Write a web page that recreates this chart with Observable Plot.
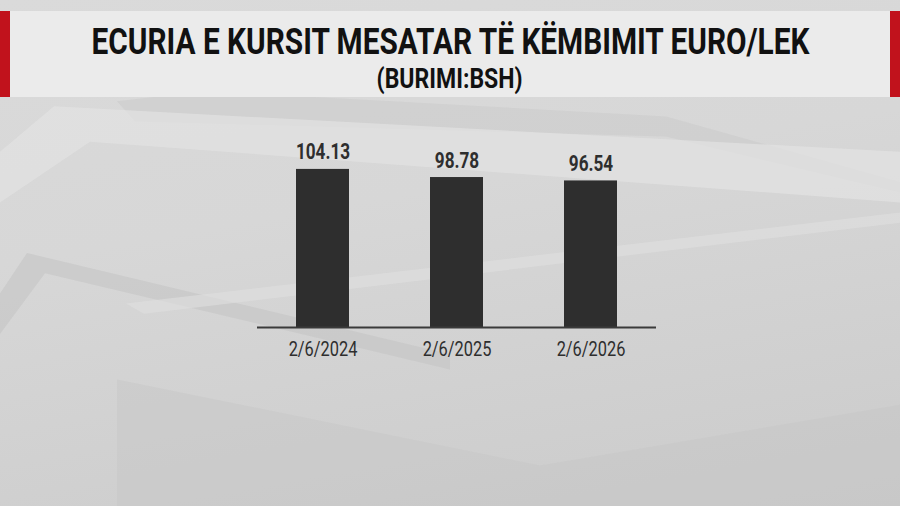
<!DOCTYPE html>
<html>
<head>
<meta charset="utf-8">
<script src="https://cdn.jsdelivr.net/npm/d3@7"></script>
<script src="https://cdn.jsdelivr.net/npm/@observablehq/plot@0.6"></script>
<style>
  html, body { margin: 0; padding: 0; }
  body { width: 900px; height: 506px; position: relative; overflow: hidden;
         background: linear-gradient(170deg, #dadada 0%, #d7d7d7 40%, #cbcbcb 100%);
         font-family: Roboto, "Noto Sans", sans-serif; }
  .deco { position: absolute; inset: 0; pointer-events: none; }
  .p1 { background: #e2e2e2; clip-path: polygon(0% 30%, 6% 21%, 100% 30%, 100% 40%, 10% 28%, 0% 40%); opacity: .7; }
  .p2 { background: #c4c4c4; clip-path: polygon(0% 58%, 3% 50%, 50% 70%, 50% 73%, 5% 54%, 0% 66%); opacity: .6; }
  .p3 { background: #e0e0e0; clip-path: polygon(14% 60%, 100% 42%, 100% 44%, 16% 62%); opacity: .6; }
  .p4 { background: #c6c6c6; clip-path: polygon(13% 75%, 60% 92%, 100% 80%, 100% 100%, 13% 100%); opacity: .45; }
  .p5 { background: #c9c9c9; clip-path: polygon(13% 20%, 23% 18%, 74% 23%, 100% 36%, 100% 38%, 74% 27%, 15% 24%); opacity: .5; }
  #banner { position: absolute; left: 0; top: 11px; width: 900px; height: 86px;
            background: #ebebeb; box-sizing: border-box;
            border-left: 10px solid #c1121c; border-right: 10px solid #c1121c; }
  #title, #subtitle { position: absolute; left: 0; right: 0; text-align: center; white-space: nowrap; color: #111; }
  #title { top: 11px; font-size: 36px; font-weight: 700; line-height: 40px; }
  #subtitle { top: 52px; font-size: 27px; font-weight: 700; line-height: 32px; }
  #title span, #subtitle span { display: inline-block; transform-origin: center; }
  #chart { position: absolute; left: 0; top: 97px; }
</style>
</head>
<body>
<div class="deco p5"></div>
<div class="deco p1"></div>
<div class="deco p2"></div>
<div class="deco p3"></div>
<div class="deco p4"></div>
<div id="banner">
  <div id="title"><span>ECURIA E KURSIT MESATAR TË KËMBIMIT EURO/LEK</span></div>
  <div id="subtitle"><span>(BURIMI:BSH)</span></div>
</div>
<div id="chart"></div>
<script>
const dates = ["2/6/2024", "2/6/2025", "2/6/2026"];
const rates = [104.13, 98.78, 96.54];
const valueLabels = ["104.13", "98.78", "96.54"];

const data = dates.map((d, i) => ({date: d, rate: rates[i], label: valueLabels[i]}));

const plot = Plot.plot({
  width: 900,
  height: 409,
  marginLeft: 257,
  marginRight: 244,
  marginTop: 63,
  marginBottom: 179,
  style: { background: "transparent", fontFamily: "Roboto, sans-serif", color: "#2e2e2e" },
  x: { domain: dates, paddingInner: 0.607, paddingOuter: 0.2815, label: null },
  y: { domain: [0, 110], axis: null },
  marks: [
    Plot.barY(data, { x: "date", y: "rate", fill: "#2e2e2e" }),
    Plot.ruleY([0], { stroke: "#3a3a3a", strokeWidth: 2 }),
    Plot.text(data, { x: "date", y: "rate", text: "label", lineAnchor: "bottom", dy: -10,
                      fontSize: 22, fontWeight: 700, fill: "#2e2e2e" }),
    Plot.axisX({ tickSize: 0, tickPadding: 14, fontSize: 21, color: "#2e2e2e", label: null })
  ]
});
document.getElementById("chart").appendChild(plot);

// condensed look for chart texts
plot.querySelectorAll("text").forEach(t => {
  const tr = t.getAttribute("transform");
  if (tr) t.setAttribute("transform", tr + " scale(0.78,1)");
});

function fit(sel, target) {
  const s = document.querySelector(sel);
  const w = s.getBoundingClientRect().width;
  s.style.transform = `scaleX(${target / w})`;
}
fit("#title span", 718);
fit("#subtitle span", 146);
</script>
</body>
</html>
